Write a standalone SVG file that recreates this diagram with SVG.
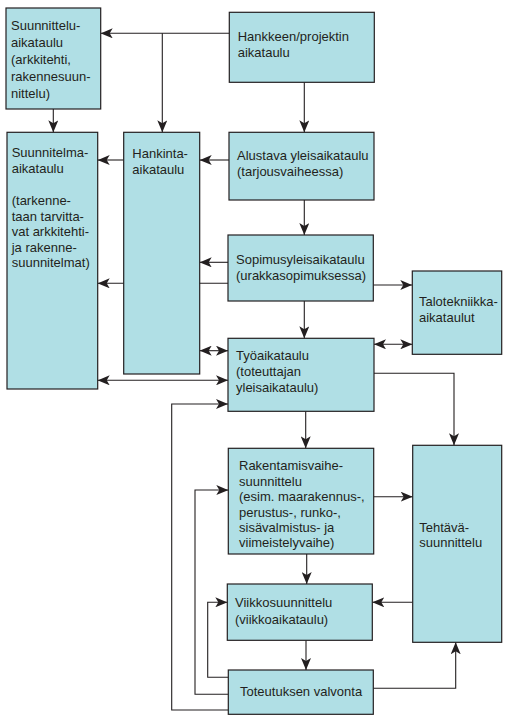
<svg xmlns="http://www.w3.org/2000/svg" width="512" height="724" viewBox="0 0 512 724">
<style>
.box{fill:#b0dfe5;stroke:#231f20;stroke-width:1.2}
.t{font-family:"Liberation Sans",Arial,sans-serif;font-size:13px;fill:#231f20}
.c{fill:none;stroke:#231f20;stroke-width:1.1}
.a{marker-end:url(#ah)}
.d{marker-start:url(#ah);marker-end:url(#ah)}
</style>
<defs>
<marker id="ah" viewBox="0 0 12 10" refX="12" refY="5" markerWidth="12" markerHeight="10" markerUnits="userSpaceOnUse" orient="auto-start-reverse">
<path d="M0,0 L12,5 L0,10 L3,5 z" fill="#231f20"/>
</marker>
</defs>
<rect width="512" height="724" fill="#ffffff"/>
<g id="connectors">
<path class="c a" d="M229.3,33.3 H100.7"/>
<path class="c a" d="M162.3,33.3 V132.3"/>
<path class="c a" d="M53.3,109 V132.3"/>
<path class="c a" d="M304.3,82.3 V132.3"/>
<path class="c a" d="M123.7,160 H97.7"/>
<path class="c a" d="M229,160 H199.7"/>
<path class="c a" d="M304.3,200 V235"/>
<path class="c a" d="M228,262.3 H199.7"/>
<path class="c a" d="M228,283.3 H97.7"/>
<path class="c a" d="M373.3,285 H412.3"/>
<path class="c a" d="M304.3,301 V338.3"/>
<path class="c d" d="M374,344.3 H412.3"/>
<path class="c d" d="M199.7,350.7 H228"/>
<path class="c d" d="M97.7,380.3 H228"/>
<path class="c a" d="M374,373.3 H454 V445.3"/>
<path class="c a" d="M305.7,411.3 V448.3"/>
<path class="c a" d="M228.3,710 H171.7 V404 H228"/>
<path class="c a" d="M228.3,694.3 H195 V490 H228.3"/>
<path class="c a" d="M228.3,677.3 H207.7 V602.3 H227.3"/>
<path class="c a" d="M373.7,496.7 H412.7"/>
<path class="c a" d="M306.7,554 V584"/>
<path class="c a" d="M412.7,602.3 H372.3"/>
<path class="c a" d="M306,640.3 V670"/>
<path class="c a" d="M373.3,688.3 H455.7 V642.3"/>
</g>
<g id="n-suunnittelu">
<rect class="box" x="6" y="8" width="94.7" height="101"/>
<text class="t" x="11" y="30">Suunnittelu-</text>
<text class="t" x="11" y="47">aikataulu</text>
<text class="t" x="11" y="64">(arkkitehti,</text>
<text class="t" x="11" y="81">rakennesuun-</text>
<text class="t" x="11" y="97.5">nittelu)</text>
</g>
<g id="n-hanke">
<rect class="box" x="229.3" y="12.3" width="145" height="70"/>
<text class="t" x="237.7" y="41">Hankkeen/projektin</text>
<text class="t" x="237.7" y="57">aikataulu</text>
</g>
<g id="n-suunnitelma">
<rect class="box" x="7" y="132.3" width="90.7" height="256.7"/>
<text class="t" x="11.7" y="157">Suunnitelma-</text>
<text class="t" x="11.7" y="173">aikataulu</text>
<text class="t" x="11.7" y="205">(tarkenne-</text>
<text class="t" x="11.7" y="220.5">taan tarvitta-</text>
<text class="t" x="11.7" y="236">vat arkkitehti-</text>
<text class="t" x="11.7" y="251.5">ja rakenne-</text>
<text class="t" x="11.7" y="267">suunnitelmat)</text>
</g>
<g id="n-hankinta">
<rect class="box" x="123.7" y="132.3" width="76" height="241.7"/>
<text class="t" x="132.3" y="157.5">Hankinta-</text>
<text class="t" x="132.3" y="173.5">aikataulu</text>
</g>
<g id="n-alustava">
<rect class="box" x="229" y="132.3" width="145" height="67.7"/>
<text class="t" x="237" y="160">Alustava yleisaikataulu</text>
<text class="t" x="237" y="176">(tarjousvaiheessa)</text>
</g>
<g id="n-sopimus">
<rect class="box" x="228" y="235" width="145.3" height="66"/>
<text class="t" x="236" y="264.3">Sopimusyleisaikataulu</text>
<text class="t" x="236" y="280">(urakkasopimuksessa)</text>
</g>
<g id="n-talotekniikka">
<rect class="box" x="412.3" y="271" width="89.4" height="83.3"/>
<text class="t" x="419" y="306">Talotekniikka-</text>
<text class="t" x="419" y="321.5">aikataulut</text>
</g>
<g id="n-tyo">
<rect class="box" x="228" y="338.3" width="146" height="73"/>
<text class="t" x="236" y="359.5">Työaikataulu</text>
<text class="t" x="236" y="376">(toteuttajan</text>
<text class="t" x="236" y="392">yleisaikataulu)</text>
</g>
<g id="n-rakentamis">
<rect class="box" x="228.3" y="448.3" width="145.4" height="105.7"/>
<text class="t" x="239" y="470">Rakentamisvaihe-</text>
<text class="t" x="239" y="485.5">suunnittelu</text>
<text class="t" x="239" y="501">(esim. maarakennus-,</text>
<text class="t" x="239" y="516.5">perustus-, runko-,</text>
<text class="t" x="239" y="532">sisävalmistus- ja</text>
<text class="t" x="239" y="547">viimeistelyvaihe)</text>
</g>
<g id="n-tehtava">
<rect class="box" x="412.7" y="445.3" width="89" height="197"/>
<text class="t" x="419.3" y="531.5">Tehtävä-</text>
<text class="t" x="419.3" y="547">suunnittelu</text>
</g>
<g id="n-viikko">
<rect class="box" x="227.3" y="584" width="145" height="56.3"/>
<text class="t" x="235" y="607">Viikkosuunnittelu</text>
<text class="t" x="235" y="623.5">(viikkoaikataulu)</text>
</g>
<g id="n-toteutus">
<rect class="box" x="228.3" y="670" width="145" height="44.3"/>
<text class="t" x="240" y="695.5">Toteutuksen valvonta</text>
</g>
</svg>
